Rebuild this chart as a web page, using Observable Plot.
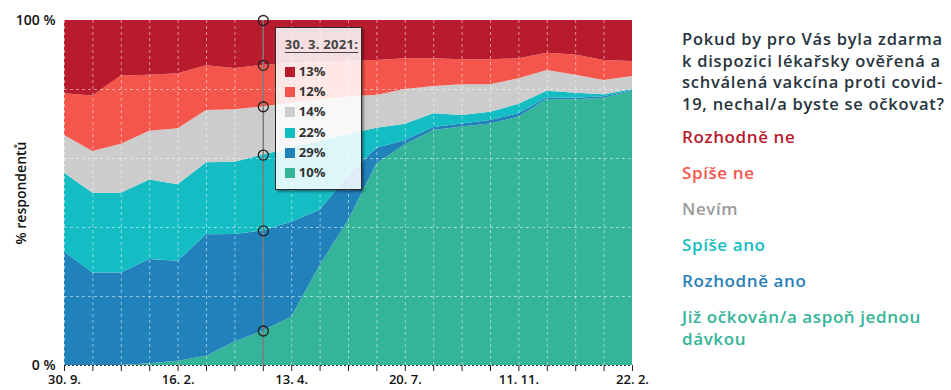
<!DOCTYPE html>
<html><head><meta charset="utf-8">
<script src="https://cdn.jsdelivr.net/npm/d3@7"></script>
<script src="https://cdn.jsdelivr.net/npm/@observablehq/plot@0.6"></script>
<style>
body{margin:0;background:#fff;font-family:"Open Sans",sans-serif;}
#wrap{position:relative;width:951px;height:390px;overflow:hidden;}
#chart{position:absolute;left:0;top:0;}
#tip{position:absolute;box-sizing:border-box;border:1.5px solid #2a2a2a;background:rgba(255,255,255,0.86);box-shadow:2px 2px 2px rgba(0,0,0,0.35);width:87px;height:163px;}
#tip .t{position:absolute;left:9px;top:7px;font-size:13px;font-weight:700;color:#444;text-decoration:underline;text-underline-offset:3px;letter-spacing:0.3px;white-space:nowrap;}
#tip .r{position:absolute;left:9px;height:20px;line-height:20px;font-size:13px;font-weight:700;color:#333;white-space:nowrap;}
#tip .r span{display:inline-block;width:10px;height:10px;margin-right:4px;vertical-align:-1px;}
#legend .title{position:absolute;left:682px;top:28px;font-size:16.5px;line-height:21.5px;font-weight:600;color:#27343d;white-space:nowrap;letter-spacing:0.75px;}
#legend .item{position:absolute;left:682px;font-size:17px;line-height:22px;font-weight:600;white-space:nowrap;letter-spacing:0.6px;}
</style></head><body>
<div id="wrap"><div id="chart"></div><div id="tip"></div><div id="legend"></div></div>
<script>
// Series (bottom to top of the stack), values in % for 21 survey waves
const seriesNames = ["Již očkován/a aspoň jednou dávkou", "Rozhodně ano", "Spíše ano", "Nevím", "Spíše ne", "Rozhodně ne"];
const seriesColors = ["#34b499", "#2181bb", "#14bdc4", "#cccccc", "#f4564b", "#b81a2e"];
const legendColors = ["#34b499", "#2a7fb8", "#14bdc4", "#9a9a9a", "#f4564b", "#b81a2e"];
const vaccinated   = [0, 0, 0, 0.5, 1.2, 2.7, 6.8, 10, 14, 29, 42, 58.5, 64, 68.1, 69.1, 70, 72, 77.1, 77, 77.5, 79.5];
const definitelyYes= [32.9, 26.8, 26.8, 30.2, 29.0, 35.2, 31.2, 29, 27.5, 16, 13, 4.5, 1.2, 0.9, 0.9, 1, 1, 0.5, 0.5, 0.4, 0.2];
const ratherYes    = [22.8, 23.1, 23.1, 23.1, 22.2, 20.9, 20.9, 22, 21.5, 20, 12, 5.8, 4.7, 4.0, 2.5, 2.4, 2.7, 1.9, 1.4, 0.6, 0.3];
const dontKnow     = [11.0, 12.1, 14.2, 14.1, 16.2, 15.1, 15.2, 14, 13, 12, 10.8, 9.5, 10.1, 7.9, 8.9, 8, 7.4, 6, 5.2, 4.1, 3.8];
const ratherNo     = [12.1, 16.1, 19.8, 16.2, 16.0, 13.0, 12.0, 12, 11.5, 11, 10.4, 10.1, 8.9, 8.0, 7.2, 7.2, 5.8, 5, 5.9, 5.8, 4.3];
const definitelyNo = [21.2, 21.9, 16.1, 15.9, 15.4, 13.1, 13.9, 13, 12.5, 12, 11.8, 11.6, 11.1, 11.1, 11.4, 11.4, 11.1, 9.5, 10, 11.6, 11.9];
const tickWaves  = [0, 4, 8, 12, 16, 20];
const tickLabels = ["30. 9.", "16. 2.", "13. 4.", "20. 7.", "11. 11.", "22. 2."];
const highlightWave = 7;
const highlightDate = "30. 3. 2021:";
const titleLines = ["Pokud by pro Vás byla zdarma", "k dispozici lékařsky ověřená a", "schválená vakcína proti covid-", "19, nechal/a byste se očkovat?"];

const seriesValues = [vaccinated, definitelyYes, ratherYes, dontKnow, ratherNo, definitelyNo];
const rows = [];
seriesValues.forEach((vals, si) => vals.forEach((v, k) => rows.push({k, v, s: seriesNames[si]})));
const waves = vaccinated.map((_, i) => i);
const labelOf = new Map(tickWaves.map((w, i) => [w, tickLabels[i]]));

const plot = Plot.plot({
  width: 660, height: 390,
  marginLeft: 64, marginRight: 28, marginTop: 20, marginBottom: 25,
  style: {fontFamily: "Open Sans", fontWeight: 600, fontSize: "13px", color: "#111", background: "transparent", overflow: "visible"},
  x: {domain: [0, waves.length - 1]},
  y: {domain: [0, 1]},
  color: {domain: seriesNames, range: seriesColors},
  marks: [
    Plot.areaY(rows, {x: "k", y: "v", z: "s", fill: "s", offset: "normalize"}),
    Plot.gridX(waves, {stroke: "white", strokeOpacity: 0.5, strokeDasharray: "3,3"}),
    Plot.gridY([0.2, 0.4, 0.6, 0.8], {stroke: "white", strokeOpacity: 0.5, strokeDasharray: "3,3"}),
    Plot.ruleY([0], {stroke: "#333", strokeDasharray: "2,2"}),
    Plot.axisX(waves, {tickFormat: d => labelOf.get(d) ?? "", tickSize: 6, tickPadding: 3, stroke: "#222", fontSize: 13, fill: "#111", label: null}),
    Plot.axisY([0, 1], {tickFormat: d => d ? "100 %" : "0 %", tickSize: 0, tickPadding: 9, fontSize: 14, fill: "#111",
      label: "% respondentů", labelAnchor: "center", labelOffset: 48, labelArrow: "none"}),
    Plot.ruleX([highlightWave], {stroke: "#7a7a7a", strokeWidth: 1.5}),
    Plot.dot(rows.filter(d => d.k === highlightWave), Plot.stackY2({x: "k", y: "v", z: "s", offset: "normalize", r: 5, stroke: "#222", fill: "none", strokeWidth: 1.3}))
  ]
});
document.getElementById("chart").appendChild(plot);

// Tooltip box
const xs = plot.scale("x");
const tip = document.getElementById("tip");
tip.style.left = (xs.apply(highlightWave) + 12) + "px";
tip.style.top = "27px";
let html = `<div class="t">${highlightDate}</div>`;
for (let i = seriesNames.length - 1, j = 0; i >= 0; i--, j++) {
  const v = Math.round(seriesValues[i][highlightWave]);
  html += `<div class="r" style="top:${33 + j * 20.2}px"><span style="background:${seriesColors[i]}"></span>${v}%</div>`;
}
tip.innerHTML = html;

// Legend on the right
const leg = document.getElementById("legend");
let lh = `<div class="title">${titleLines.join("<br>")}</div>`;
for (let i = seriesNames.length - 1, j = 0; i >= 0; i--, j++) {
  const name = i === 0 ? "Již očkován/a aspoň jednou<br>dávkou" : seriesNames[i];
  lh += `<div class="item" style="top:${137 + j * 36 - 11}px;color:${legendColors[i]}">${name}</div>`;
}
leg.innerHTML = lh;
</script>
</body></html>
